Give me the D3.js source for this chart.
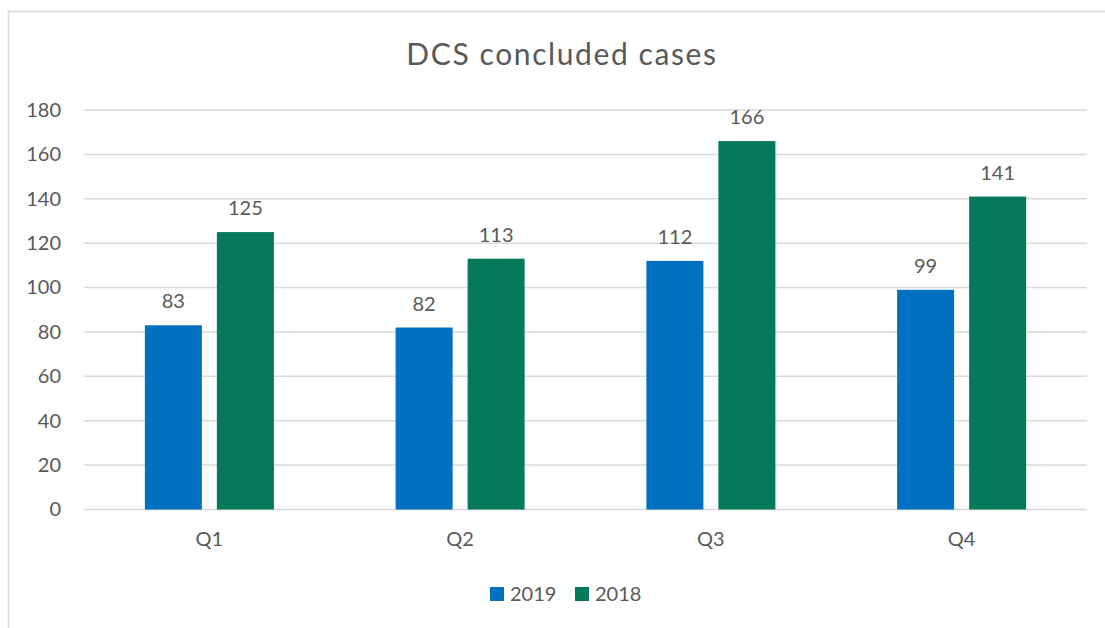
<!DOCTYPE html>
<html>
<head>
<meta charset="utf-8">
<script src="https://cdn.jsdelivr.net/npm/d3@7"></script>
<style>
  body { margin: 0; background: #fff; }
  text { font-family: Lato, "Open Sans", sans-serif; fill: #595959; }
</style>
</head>
<body>
<div id="chart"></div>
<script>
// DCS concluded cases, grouped bars by quarter

const quarters = ["Q1", "Q2", "Q3", "Q4"];
const seriesNames = ["2019", "2018"];
const values2019 = [83, 82, 112, 99];
const values2018 = [125, 113, 166, 141];
const yTicks = [0, 20, 40, 60, 80, 100, 120, 140, 160, 180];

(function() {
    const W = 1105, H = 628;
    const margin = {top: 110, right: 18, bottom: 118, left: 84},
        width = 1087 - margin.left,
        height = 509.5 - margin.top;

    const colors = {"2019": "#0070C0", "2018": "#047A5A"};

    const svg = d3.select("#chart")
        .append("svg")
        .attr("width", W)
        .attr("height", H);

    // chart border (runs off the right/bottom of the picture)
    svg.append("rect")
        .attr("x", 8.5)
        .attr("y", 11.5)
        .attr("width", W + 20)
        .attr("height", H + 20)
        .attr("fill", "none")
        .attr("stroke", "#D9D9D9")
        .attr("stroke-width", 1.5);

    const g = svg.append("g")
        .attr("transform", `translate(${margin.left},${margin.top})`);

    const data = quarters.map((q, i) => ({
        quarter: q,
        values: [
            {series: "2019", value: values2019[i]},
            {series: "2018", value: values2018[i]}
        ]
    }));

    const x0 = d3.scaleBand()
        .domain(quarters)
        .range([0, width])
        .padding(0);

    const groupWidth = 129;
    const x1 = d3.scaleBand()
        .domain(seriesNames)
        .range([0, groupWidth])
        .paddingInner(15 / 72)
        .paddingOuter(0);

    const y = d3.scaleLinear()
        .domain([0, 180])
        .range([height, 0]);

    // gridlines
    g.selectAll("line.grid")
        .data(yTicks)
        .enter()
        .append("line")
        .attr("class", "grid")
        .attr("x1", 0)
        .attr("x2", width)
        .attr("y1", d => y(d))
        .attr("y2", d => y(d))
        .attr("stroke", "#D9D9D9")
        .attr("stroke-width", 1.5);

    // y axis labels
    const yAxis = g.append("g")
        .call(d3.axisLeft(y).tickValues(yTicks).tickSize(0).tickPadding(23));
    yAxis.select(".domain").remove();
    yAxis.selectAll("text")
        .style("font-size", "20px")
        .attr("fill", "#595959")
        .attr("font-family", "Lato, sans-serif");

    // x axis labels
    const xAxis = g.append("g")
        .attr("transform", `translate(0,${height})`)
        .call(d3.axisBottom(x0).tickSize(0).tickPadding(22));
    xAxis.select(".domain").remove();
    xAxis.selectAll("text")
        .style("font-size", "20px")
        .attr("fill", "#595959")
        .attr("font-family", "Lato, sans-serif");

    // bars
    const groups = g.selectAll("g.quarter")
        .data(data)
        .enter()
        .append("g")
        .attr("class", "quarter")
        .attr("transform", d => `translate(${x0(d.quarter) + (x0.bandwidth() - groupWidth) / 2},0)`);

    groups.selectAll("rect")
        .data(d => d.values)
        .enter()
        .append("rect")
        .attr("x", d => x1(d.series))
        .attr("y", d => y(d.value))
        .attr("width", x1.bandwidth())
        .attr("height", d => height - y(d.value))
        .attr("fill", d => colors[d.series]);

    // value labels
    groups.selectAll("text.val")
        .data(d => d.values)
        .enter()
        .append("text")
        .attr("class", "val")
        .attr("x", d => x1(d.series) + x1.bandwidth() / 2)
        .attr("y", d => y(d.value) - 17)
        .attr("text-anchor", "middle")
        .style("font-size", "20px")
        .text(d => d.value);

    // title
    svg.append("text")
        .attr("x", 562)
        .attr("y", 65)
        .attr("text-anchor", "middle")
        .style("font-size", "30px")
        .style("letter-spacing", "1.6px")
        .text("DCS concluded cases");

    // legend
    const legendX = [490, 575];
    const legend = svg.selectAll("g.legend")
        .data(seriesNames)
        .enter()
        .append("g")
        .attr("class", "legend")
        .attr("transform", (d, i) => `translate(${legendX[i]},587)`);

    legend.append("rect")
        .attr("width", 14)
        .attr("height", 14)
        .attr("fill", d => colors[d]);

    legend.append("text")
        .attr("x", 20)
        .attr("y", 14)
        .style("font-size", "20px")
        .text(d => d);
})();
</script>
</body>
</html>
